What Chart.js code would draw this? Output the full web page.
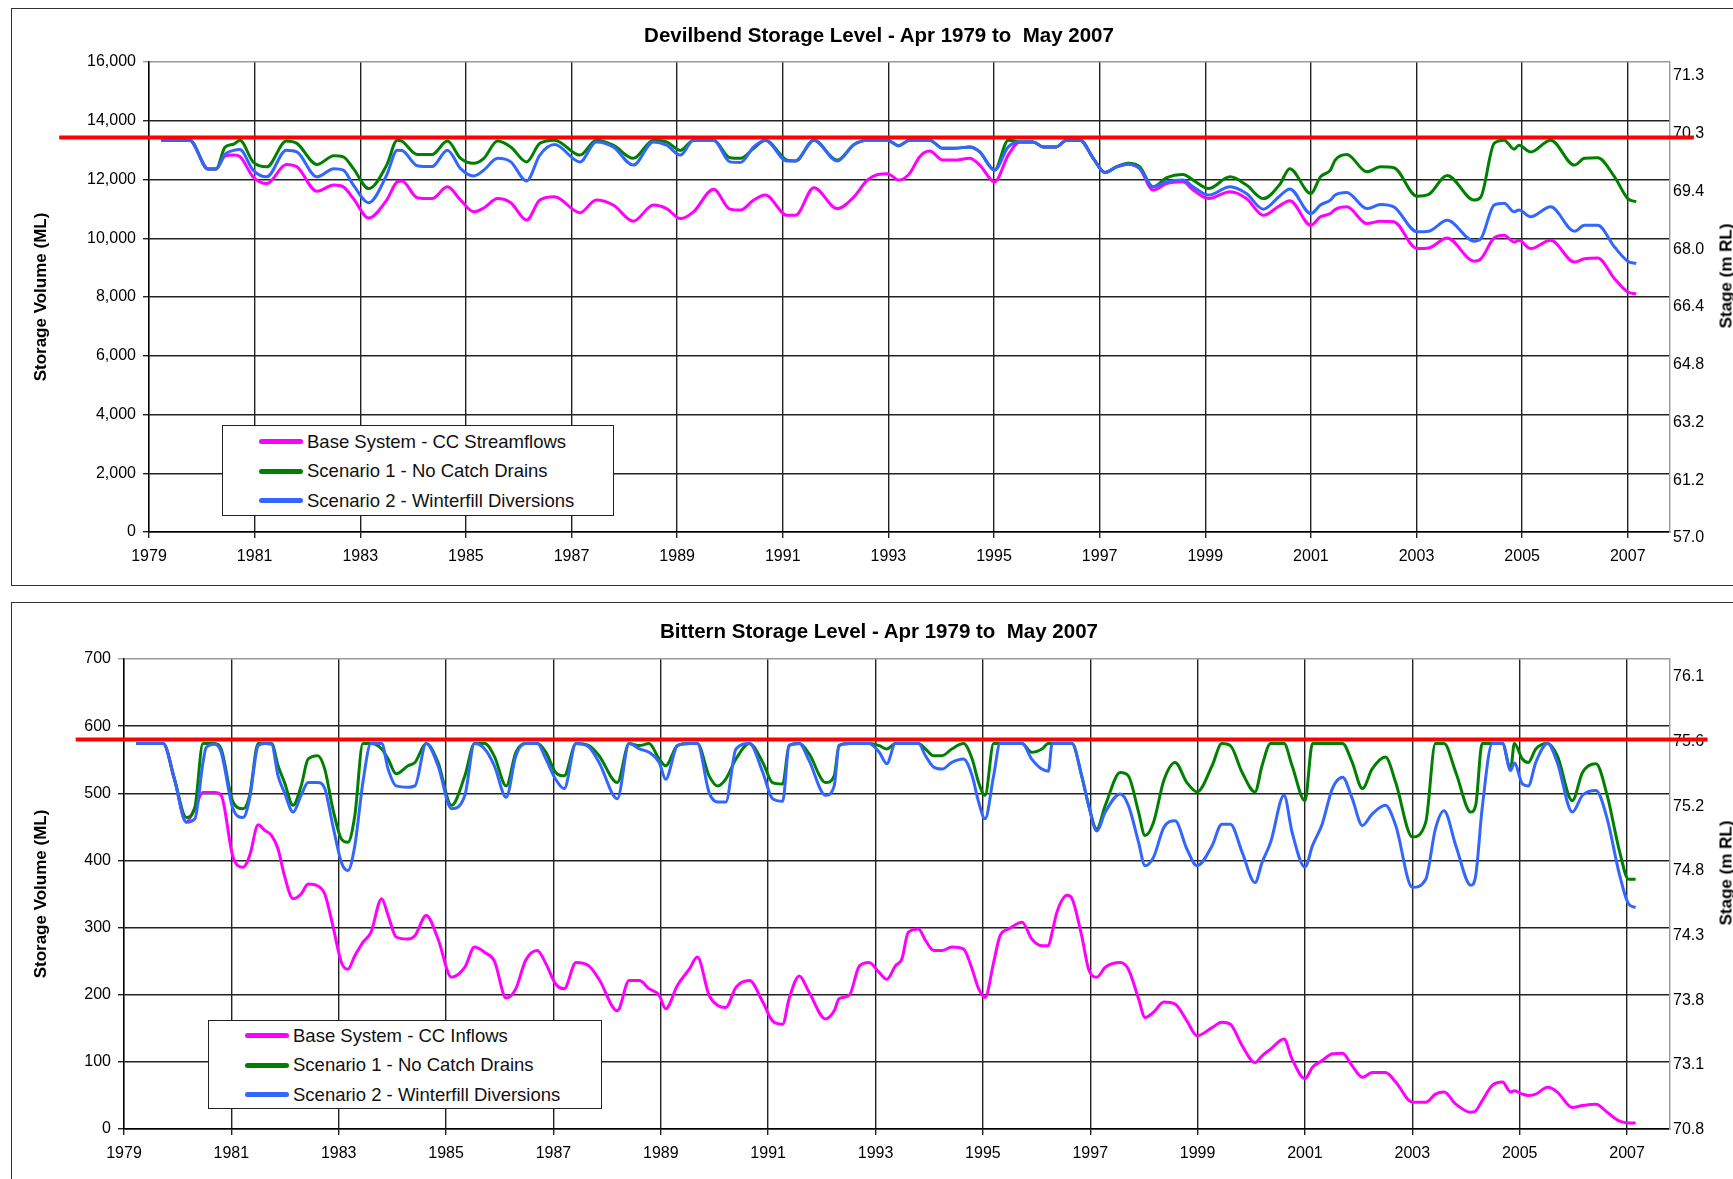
<!DOCTYPE html>
<html>
<head>
<meta charset="utf-8">
<title>Devilbend and Bittern Storage Levels</title>
<script src="https://cdn.jsdelivr.net/npm/chart.js@4.4.1/dist/chart.umd.min.js"></script>
<style>
    html, body {
        margin: 0;
        padding: 0;
        background: #fff;
        width: 1733px;
        height: 1179px;
        overflow: hidden;
    }
    body {
        position: relative;
        font-family: 'Liberation Sans', Arial, sans-serif;
    }
    .panel {
        position: absolute;
        left: 0;
        width: 1733px;
        overflow: hidden;
    }
    .frame {
        position: absolute;
        border: 1.5px solid #333;
        box-sizing: border-box;
    }
    .panel canvas {
        position: absolute;
        left: 0;
        top: 0;
    }
    .chart-title {
        position: absolute;
        left: 879px;
        font-size: 20.5px;
        font-weight: bold;
        line-height: 1;
        color: #000;
        white-space: pre;
        transform: translate(-50%, -50%);
    }
    .legend {
        position: absolute;
        border: 1.5px solid #222;
        background: #fff;
        box-sizing: border-box;
        padding-left: 36px;
    }
    .legend-row {
        display: flex;
        align-items: center;
        height: 29.5px;
        font-size: 18.5px;
        color: #111;
        white-space: nowrap;
    }
    .legend-swatch {
        display: inline-block;
        width: 44px;
        height: 5px;
        border-radius: 3px;
        margin-right: 4px;
    }
    .stage-title {
        position: absolute;
        font-size: 17px;
        font-weight: bold;
        line-height: 1;
        color: #000;
        white-space: nowrap;
        transform: translate(-50%, -50%) rotate(-90deg);
    }
</style>
</head>
<body>

<div class="panel" style="top:0; height:590px;">
    <div class="frame" style="left:11px; top:8px; width:1800px; height:578px;"></div>
    <canvas id="devilbendChart" width="1733" height="590"></canvas>
    <div class="chart-title" id="devilbendTitle" style="top:35px;"></div>
    <div class="legend" id="devilbendLegend" style="left:222px; top:425px; width:392px; height:91px; padding-top:1px;"></div>
    <div class="stage-title" style="left:1726px; top:276px;">Stage (m RL)</div>
</div>

<div class="panel" style="top:602px; height:577px;">
    <div class="frame" style="left:11px; top:0; width:1800px; height:700px;"></div>
    <canvas id="bitternChart" width="1733" height="577"></canvas>
    <div class="chart-title" id="bitternTitle" style="top:29px;"></div>
    <div class="legend" id="bitternLegend" style="left:208px; top:418px; width:394px; height:89px; padding-top:0;"></div>
    <div class="stage-title" style="left:1726px; top:271px;">Stage (m RL)</div>
</div>

<script>
// Shared axis labels
const X_TICK_YEARS = [1979, 1981, 1983, 1985, 1987, 1989, 1991, 1993, 1995, 1997, 1999, 2001, 2003, 2005, 2007];
const SERIES_COLORS = ['#ff00ff', '#008000', '#3366ff'];

// Devilbend (ML)
const DEVILBEND_YEARS = [
    1979.23, 1979.77, 1980.12, 1980.27, 1980.44, 1980.6, 1980.72, 1980.97, 1981.23, 1981.6,
    1981.8, 1982.18, 1982.5, 1982.68, 1982.87, 1983.16, 1983.5, 1983.7, 1983.79, 1984.08,
    1984.36, 1984.65, 1984.9, 1985.15, 1985.34, 1985.6, 1985.85, 1986.15, 1986.4, 1986.68,
    1987.16, 1987.47, 1987.79, 1988.17, 1988.55, 1988.8, 1989.06, 1989.31, 1989.69, 1990.0,
    1990.2, 1990.45, 1990.67, 1991.08, 1991.24, 1991.59, 1992.03, 1992.35, 1992.6, 1992.8,
    1992.98, 1993.2, 1993.4, 1993.59, 1993.78, 1994.03, 1994.25, 1994.54, 1994.73, 1995.01,
    1995.27, 1995.49, 1995.74, 1995.93, 1996.18, 1996.37, 1996.63, 1996.88, 1997.1, 1997.32,
    1997.54, 1997.76, 1998.01, 1998.27, 1998.58, 1998.77, 1999.06, 1999.47, 1999.78, 2000.1,
    2000.41, 2000.6, 2001.0, 2001.18, 2001.37, 2001.46, 2001.68, 2002.06, 2002.32, 2002.57,
    2003.01, 2003.23, 2003.58, 2004.09, 2004.22, 2004.47, 2004.66, 2004.85, 2004.94, 2005.16,
    2005.54, 2005.99, 2006.18, 2006.43, 2006.75, 2007.0, 2007.16
];
const DEVILBEND_BASE = [
    13340, 13340, 12360, 12360, 12800, 12830, 12780, 12090, 11860, 12510,
    12430, 11600, 11810, 11750, 11350, 10690, 11300, 11920, 11950, 11380,
    11350, 11750, 11300, 10900, 11030, 11350, 11210, 10620, 11300, 11410,
    10870, 11300, 11130, 10580, 11130, 11010, 10670, 10900, 11670, 10990,
    10960, 11300, 11470, 10780, 10780, 11720, 11010, 11410, 11980, 12170,
    12200, 11980, 12200, 12770, 12970, 12660, 12660, 12720, 12490, 11920,
    12830, 13280, 13280, 13110, 13110, 13340, 13340, 12720, 12240, 12430,
    12520, 12370, 11640, 11860, 11920, 11640, 11350, 11580, 11350, 10780,
    11110, 11280, 10440, 10730, 10840, 10980, 11070, 10500, 10580, 10560,
    9650, 9670, 10010, 9220, 9300, 10010, 10100, 9870, 9930, 9650,
    9930, 9190, 9300, 9330, 8620, 8170, 8110
];
const DEVILBEND_SCEN1 = [
    13340, 13340, 12360, 12360, 13100, 13200, 13340, 12600, 12430, 13310,
    13230, 12510, 12810, 12770, 12370, 11690, 12490, 13340, 13300, 12850,
    12850, 13310, 12720, 12550, 12720, 13310, 13110, 12600, 13230, 13340,
    12830, 13340, 13170, 12720, 13340, 13280, 12990, 13340, 13340, 12740,
    12720, 13060, 13340, 12660, 12630, 13340, 12660, 13190, 13340, 13340,
    13340, 13150, 13340, 13340, 13340, 13060, 13060, 13110, 12940, 12320,
    13340, 13280, 13280, 13110, 13110, 13340, 13340, 12720, 12240, 12430,
    12550, 12430, 11750, 12060, 12170, 11980, 11690, 12090, 11810, 11350,
    11830, 12370, 11520, 12090, 12320, 12660, 12850, 12260, 12430, 12400,
    11430, 11490, 12140, 11300, 11410, 13230, 13340, 13030, 13170, 12940,
    13340, 12490, 12720, 12740, 12090, 11350, 11240
];
const DEVILBEND_SCEN2 = [
    13340, 13340, 12360, 12360, 12860, 12990, 13020, 12320, 12090, 13000,
    12940, 12090, 12370, 12320, 11810, 11210, 12150, 13000, 12990, 12470,
    12440, 13000, 12370, 12120, 12320, 12720, 12600, 11950, 12830, 13190,
    12600, 13280, 13110, 12490, 13280, 13170, 12830, 13340, 13340, 12600,
    12580, 13110, 13340, 12630, 12630, 13340, 12630, 13190, 13340, 13340,
    13340, 13150, 13340, 13340, 13340, 13060, 13060, 13110, 12940, 12320,
    13110, 13280, 13280, 13110, 13110, 13340, 13340, 12720, 12240, 12430,
    12520, 12370, 11750, 11920, 11980, 11750, 11470, 11750, 11520, 10990,
    11440, 11680, 10840, 11130, 11300, 11470, 11560, 11010, 11150, 11070,
    10220, 10240, 10610, 9900, 9990, 11130, 11190, 10900, 10960, 10730,
    11070, 10240, 10440, 10440, 9700, 9220, 9140
];
const DEVILBEND_STAGE_LABELS = ['57.0', '61.2', '63.2', '64.8', '66.4', '68.0', '69.4', '70.3', '71.3'];
const DEVILBEND_FULL_SUPPLY = 13430;
const DEVILBEND_FULL_SUPPLY_SPAN = [1977.3, 2008.25];

// Bittern (ML)
const BITTERN_YEARS = [
    1979.23, 1979.73, 1979.94, 1980.16, 1980.32, 1980.47, 1980.53, 1980.69, 1980.81, 1981.03,
    1981.22, 1981.34, 1981.5, 1981.62, 1981.75, 1981.87, 1981.99, 1982.15, 1982.3, 1982.43,
    1982.61, 1982.74, 1982.89, 1983.05, 1983.17, 1983.3, 1983.45, 1983.6, 1983.8, 1983.92,
    1984.07, 1984.29, 1984.42, 1984.63, 1984.85, 1985.1, 1985.35, 1985.53, 1985.72, 1985.9,
    1986.12, 1986.3, 1986.48, 1986.7, 1986.86, 1987.04, 1987.2, 1987.42, 1987.66, 1987.85,
    1988.19, 1988.41, 1988.6, 1988.78, 1988.97, 1989.09, 1989.31, 1989.53, 1989.68, 1989.9,
    1990.06, 1990.21, 1990.4, 1990.65, 1990.9, 1991.08, 1991.27, 1991.39, 1991.58, 1991.76,
    1992.07, 1992.23, 1992.32, 1992.51, 1992.7, 1992.88, 1993.07, 1993.21, 1993.37, 1993.49,
    1993.61, 1993.8, 1993.93, 1994.08, 1994.24, 1994.42, 1994.64, 1994.8, 1994.92, 1995.04,
    1995.2, 1995.32, 1995.48, 1995.73, 1995.91, 1996.1, 1996.22, 1996.29, 1996.38, 1996.57,
    1996.66, 1996.84, 1996.97, 1997.12, 1997.28, 1997.56, 1997.71, 1997.9, 1998.02, 1998.18,
    1998.37, 1998.58, 1998.8, 1998.99, 1999.27, 1999.45, 1999.61, 1999.83, 2000.07, 2000.2,
    2000.36, 2000.61, 2000.76, 2001.0, 2001.14, 2001.32, 2001.51, 2001.7, 2001.88, 2002.07,
    2002.25, 2002.5, 2002.69, 2003.0, 2003.25, 2003.43, 2003.59, 2003.81, 2004.09, 2004.18,
    2004.3, 2004.49, 2004.68, 2004.83, 2004.9, 2005.05, 2005.16, 2005.3, 2005.52, 2005.7,
    2005.98, 2006.17, 2006.42, 2006.63, 2006.85, 2007.03, 2007.16
];
const BITTERN_BASE = [
    574, 574, 521, 457, 478, 501, 501, 501, 497, 405,
    390, 407, 453, 445, 437, 417, 377, 343, 350, 365,
    362, 350, 303, 248, 238, 258, 278, 293, 343, 318,
    286, 283, 288, 318, 283, 226, 241, 271, 263, 250,
    195, 209, 251, 266, 246, 216, 209, 248, 243, 223,
    176, 221, 221, 209, 199, 179, 214, 238, 256, 199,
    184, 181, 211, 221, 189, 161, 156, 194, 228, 204,
    164, 176, 194, 199, 243, 248, 233, 223, 243, 253,
    293, 298, 281, 266, 266, 271, 268, 238, 209, 196,
    248, 288, 298, 308, 283, 273, 273, 293, 323, 348,
    343, 288, 238, 226, 241, 248, 238, 194, 166, 174,
    189, 186, 161, 139, 151, 159, 156, 124, 99, 109,
    119, 134, 104, 75, 92, 102, 112, 113, 94, 77,
    84, 84, 70, 40, 40, 52, 55, 37, 25, 27,
    42, 65, 70, 55, 57, 52, 50, 52, 62, 55,
    32, 35, 37, 25, 12, 9, 9
];
const BITTERN_SCEN1 = [
    574, 574, 521, 464, 479, 574, 574, 574, 566, 487,
    477, 497, 574, 574, 574, 541, 516, 482, 511, 551,
    556, 536, 477, 432, 427, 467, 574, 574, 566, 551,
    529, 541, 546, 574, 546, 482, 526, 574, 574, 555,
    511, 561, 574, 574, 561, 531, 526, 574, 571, 556,
    516, 574, 571, 574, 551, 541, 571, 574, 574, 526,
    511, 521, 551, 574, 546, 516, 514, 571, 574, 559,
    516, 526, 571, 574, 574, 574, 571, 566, 574, 574,
    574, 574, 566, 556, 556, 566, 574, 551, 516, 497,
    574, 574, 574, 574, 561, 566, 574, 574, 574, 574,
    574, 526, 482, 447, 482, 531, 526, 472, 437, 457,
    519, 546, 516, 502, 541, 574, 571, 531, 502, 541,
    574, 574, 541, 489, 574, 574, 574, 574, 546, 507,
    536, 554, 516, 435, 457, 574, 574, 531, 472, 482,
    574, 574, 574, 536, 574, 551, 546, 566, 574, 556,
    489, 531, 544, 497, 417, 372, 372
];
const BITTERN_SCEN2 = [
    574, 574, 521, 457, 462, 545, 568, 573, 561, 477,
    464, 492, 571, 574, 573, 526, 501, 472, 497, 516,
    516, 507, 452, 397, 385, 422, 516, 574, 574, 536,
    511, 509, 511, 574, 541, 477, 497, 574, 566, 541,
    494, 556, 574, 574, 551, 521, 507, 574, 569, 546,
    492, 574, 566, 561, 546, 521, 571, 574, 574, 501,
    487, 487, 566, 574, 531, 492, 488, 571, 574, 549,
    497, 511, 571, 574, 574, 574, 561, 544, 574, 574,
    574, 574, 556, 539, 536, 546, 551, 526, 487, 462,
    526, 574, 574, 574, 551, 536, 533, 574, 574, 574,
    574, 526, 482, 444, 472, 499, 482, 427, 392, 405,
    449, 459, 417, 392, 422, 454, 454, 412, 367, 397,
    427, 497, 442, 390, 422, 454, 507, 524, 492, 452,
    469, 482, 452, 360, 372, 447, 474, 422, 363, 377,
    477, 574, 574, 534, 545, 514, 511, 546, 574, 546,
    472, 497, 504, 462, 382, 335, 330
];
const BITTERN_STAGE_LABELS = ['70.8', '73.1', '73.8', '74.3', '74.8', '75.2', '75.6', '76.1'];
const BITTERN_FULL_SUPPLY = 580;
const BITTERN_FULL_SUPPLY_SPAN = [1978.1, 2008.5];

Chart.defaults.font.family = "'Liberation Sans', Arial, sans-serif";
Chart.defaults.color = '#000';

// Red full supply line, drawn across and past the plot area
const fullSupplyLine = {
    id: 'fullSupplyLine',
    afterDatasetsDraw: (chart, args, opts) => {
        const { ctx, scales: { x, y } } = chart;
        const yPix = y.getPixelForValue(opts.level);
        ctx.save();
        ctx.strokeStyle = opts.color;
        ctx.lineWidth = opts.width;
        ctx.beginPath();
        ctx.moveTo(x.getPixelForValue(opts.span[0]), yPix);
        ctx.lineTo(x.getPixelForValue(opts.span[1]), yPix);
        ctx.stroke();
        ctx.restore();
    }
};

function toPoints(years, values) {
    return years.map((year, i) => ({ x: year, y: values[i] }));
}

function makeDataset(label, years, values, index) {
    return {
        label: label,
        data: toPoints(years, values),
        borderColor: SERIES_COLORS[index],
        backgroundColor: SERIES_COLORS[index],
        borderWidth: 3,
        pointRadius: 0,
        cubicInterpolationMode: 'monotone',
        order: 3 - index // blue on top, pink underneath
    };
}

// Build one storage chart
function makeStorageChart(canvasId, cfg) {
    const ctx = document.getElementById(canvasId).getContext('2d');
    const gridColor = '#222';
    const stageCount = cfg.stageLabels.length - 1;

    return new Chart(ctx, {
        type: 'line',
        data: {
            datasets: cfg.series.map((s, i) => makeDataset(s.label, cfg.years, s.values, i))
        },
        options: {
            responsive: false,
            animation: false,
            layout: { padding: { top: cfg.plotTop, left: 0, right: 0, bottom: 0 } },
            plugins: {
                legend: { display: false },
                tooltip: { enabled: false },
                title: { display: false },
                fullSupplyLine: {
                    level: cfg.fullSupply,
                    span: cfg.fullSupplySpan,
                    color: '#ff0000',
                    width: 4
                }
            },
            scales: {
                x: {
                    type: 'linear',
                    min: 1979,
                    max: 2007.8,
                    afterBuildTicks: (axis) => {
                        axis.ticks = X_TICK_YEARS.map(v => ({ value: v }));
                    },
                    afterFit: (scale) => { scale.height = cfg.xHeight; },
                    grid: { color: gridColor, lineWidth: 1.4, tickLength: 6 },
                    border: { color: '#000', width: 1.4 },
                    ticks: {
                        color: '#000',
                        font: { size: 16 },
                        padding: 9,
                        maxRotation: 0,
                        autoSkip: false,
                        callback: (value) => String(value)
                    }
                },
                y: {
                    min: 0,
                    max: cfg.yMax,
                    afterFit: (scale) => { scale.width = cfg.leftWidth; },
                    grid: {
                        color: (c) => c.tick && c.tick.value === cfg.yMax ? '#9a9a9a' : gridColor,
                        lineWidth: 1.4,
                        tickLength: 6
                    },
                    border: { color: '#000', width: 1.4 },
                    ticks: {
                        stepSize: cfg.yStep,
                        color: '#000',
                        font: { size: 16 },
                        padding: 7,
                        callback: (value) => value.toLocaleString('en-US')
                    },
                    title: {
                        display: true,
                        text: 'Storage Volume (ML)',
                        color: '#000',
                        font: { size: 17, weight: 'bold' },
                        padding: { top: 31, bottom: 0 }
                    }
                },
                // Stage axis: its own evenly spaced labels, a little tighter than the volume grid
                y2: {
                    position: 'right',
                    min: 0,
                    max: cfg.stageMax,
                    afterBuildTicks: (axis) => {
                        axis.ticks = cfg.stageLabels.map((label, i) => ({ value: i }));
                    },
                    afterFit: (scale) => { scale.width = 63; },
                    grid: { drawOnChartArea: false, drawTicks: false },
                    border: { color: '#9a9a9a', width: 1.4 },
                    ticks: {
                        color: '#000',
                        font: { size: 16 },
                        padding: 3,
                        labelOffset: cfg.stageOffset,
                        callback: (value) => cfg.stageLabels[Math.round(value)]
                    }
                }
            }
        },
        plugins: [fullSupplyLine]
    });
}

// Legend box as html, built from the chart datasets
function buildLegend(chart, legendId) {
    const box = document.getElementById(legendId);
    box.innerHTML = '';
    chart.data.datasets.forEach(ds => {
        const row = document.createElement('div');
        row.className = 'legend-row';
        const swatch = document.createElement('span');
        swatch.className = 'legend-swatch';
        swatch.style.background = ds.borderColor;
        const text = document.createElement('span');
        text.textContent = ds.label;
        row.appendChild(swatch);
        row.appendChild(text);
        box.appendChild(row);
    });
}

const DEVILBEND_TITLE = 'Devilbend Storage Level - Apr 1979 to  May 2007';
const BITTERN_TITLE = 'Bittern Storage Level - Apr 1979 to  May 2007';

const devilbendChart = makeStorageChart('devilbendChart', {
    years: DEVILBEND_YEARS,
    series: [
        { label: 'Base System - CC Streamflows', values: DEVILBEND_BASE },
        { label: 'Scenario 1 - No Catch Drains', values: DEVILBEND_SCEN1 },
        { label: 'Scenario 2 - Winterfill Diversions', values: DEVILBEND_SCEN2 }
    ],
    yMax: 16000,
    yStep: 2000,
    stageLabels: DEVILBEND_STAGE_LABELS,
    stageMax: 8.14,
    stageOffset: 6,
    fullSupply: DEVILBEND_FULL_SUPPLY,
    fullSupplySpan: DEVILBEND_FULL_SUPPLY_SPAN,
    plotTop: 62,
    leftWidth: 149,
    xHeight: 58
});

const bitternChart = makeStorageChart('bitternChart', {
    years: BITTERN_YEARS,
    series: [
        { label: 'Base System - CC Inflows', values: BITTERN_BASE },
        { label: 'Scenario 1 - No Catch Drains', values: BITTERN_SCEN1 },
        { label: 'Scenario 2 - Winterfill Diversions', values: BITTERN_SCEN2 }
    ],
    yMax: 700,
    yStep: 100,
    stageLabels: BITTERN_STAGE_LABELS,
    stageMax: 7.27,
    stageOffset: 0.5,
    fullSupply: BITTERN_FULL_SUPPLY,
    fullSupplySpan: BITTERN_FULL_SUPPLY_SPAN,
    plotTop: 57,
    leftWidth: 124,
    xHeight: 50
});

document.getElementById('devilbendTitle').textContent = DEVILBEND_TITLE;
document.getElementById('bitternTitle').textContent = BITTERN_TITLE;
buildLegend(devilbendChart, 'devilbendLegend');
buildLegend(bitternChart, 'bitternLegend');
</script>
</body>
</html>
